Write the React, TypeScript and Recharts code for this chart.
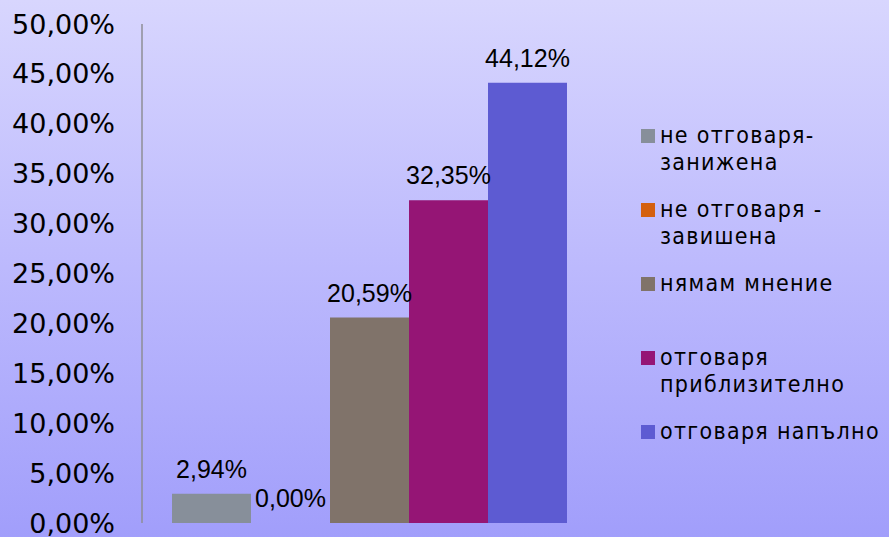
import { Bar, BarChart, LabelList, XAxis, YAxis } from "recharts";

const CATEGORIES = ["оценка"];
const SERIES_NAMES = [
  "не отговаря-\nзанижена",
  "не отговаря -\nзавишена",
  "нямам мнение",
  "отговаря\nприблизително",
  "отговаря напълно",
];
const SERIES_VALUES = [0.0294, 0, 0.2059, 0.3235, 0.4412];
const Y_TICKS = [0, 0.05, 0.1, 0.15, 0.2, 0.25, 0.3, 0.35, 0.4, 0.45, 0.5];

const COLORS = ["#878f9a", "#d4600e", "#80736a", "#951575", "#5d5bd2"];

const WIDTH = 889;
const HEIGHT = 537;
const LEGEND_SLOT = 74;
const LEGEND_LINE = 27;

const rows = CATEGORIES.map((name) => {
  const row: Record<string, string | number> = { name };
  SERIES_VALUES.forEach((v, i) => {
    row[`s${i}`] = v;
  });
  return row;
});

function formatPct(v: number): string {
  return `${(v * 100).toFixed(2).replace(".", ",")}%`;
}

function ChartLegend() {
  return (
    <div style={{ position: "absolute", left: 641, top: 122, width: 248 }}>
      {SERIES_NAMES.map((name, i) => (
        <div
          key={name}
          style={{ position: "absolute", left: 0, top: i * LEGEND_SLOT, display: "flex" }}
        >
          <span
            style={{
              display: "inline-block",
              flex: "none",
              width: 14,
              height: 14,
              marginTop: (LEGEND_LINE - 14) / 2,
              marginRight: 5,
              background: COLORS[i],
            }}
          />
          <span
            style={{
              fontFamily: "'DejaVu Sans Condensed', 'DejaVu Sans', sans-serif",
              fontSize: 23,
              lineHeight: `${LEGEND_LINE}px`,
              letterSpacing: 1.3,
              color: "#000",
              whiteSpace: "pre",
            }}
          >
            {name}
          </span>
        </div>
      ))}
    </div>
  );
}

export default function App() {
  return (
    <div
      style={{
        position: "fixed",
        left: 0,
        top: 0,
        width: WIDTH,
        height: HEIGHT,
        background: "linear-gradient(to bottom, #d8d6fe 0%, #bcb9fd 50%, #a19efb 100%)",
      }}
    >
      <BarChart
        width={WIDTH}
        height={HEIGHT}
        data={rows}
        margin={{ top: 24, right: 290, bottom: 14, left: 0 }}
        barCategoryGap={30}
        barGap={0}
      >
        <XAxis dataKey="name" hide />
        <YAxis
          width={142}
          domain={[0, 0.5]}
          ticks={Y_TICKS}
          interval={0}
          tickFormatter={formatPct}
          tickLine={false}
          tickSize={6}
          tickMargin={21}
          axisLine={{ stroke: "#8e8e96", strokeWidth: 1.5 }}
          tick={{ fill: "#000", fontSize: 27, fontFamily: "'DejaVu Sans', sans-serif" }}
        />
        {SERIES_NAMES.map((name, i) => (
          <Bar
            key={name}
            dataKey={`s${i}`}
            name={name}
            fill={COLORS[i]}
            minPointSize={0.01}
            isAnimationActive={false}
          >
            <LabelList
              dataKey={`s${i}`}
              position="top"
              offset={16}
              formatter={(v: unknown) => formatPct(Number(v))}
              style={{ fill: "#000", fontSize: 25, fontFamily: "'Liberation Sans', Arial, sans-serif" }}
            />
          </Bar>
        ))}
      </BarChart>
      <ChartLegend />
    </div>
  );
}
